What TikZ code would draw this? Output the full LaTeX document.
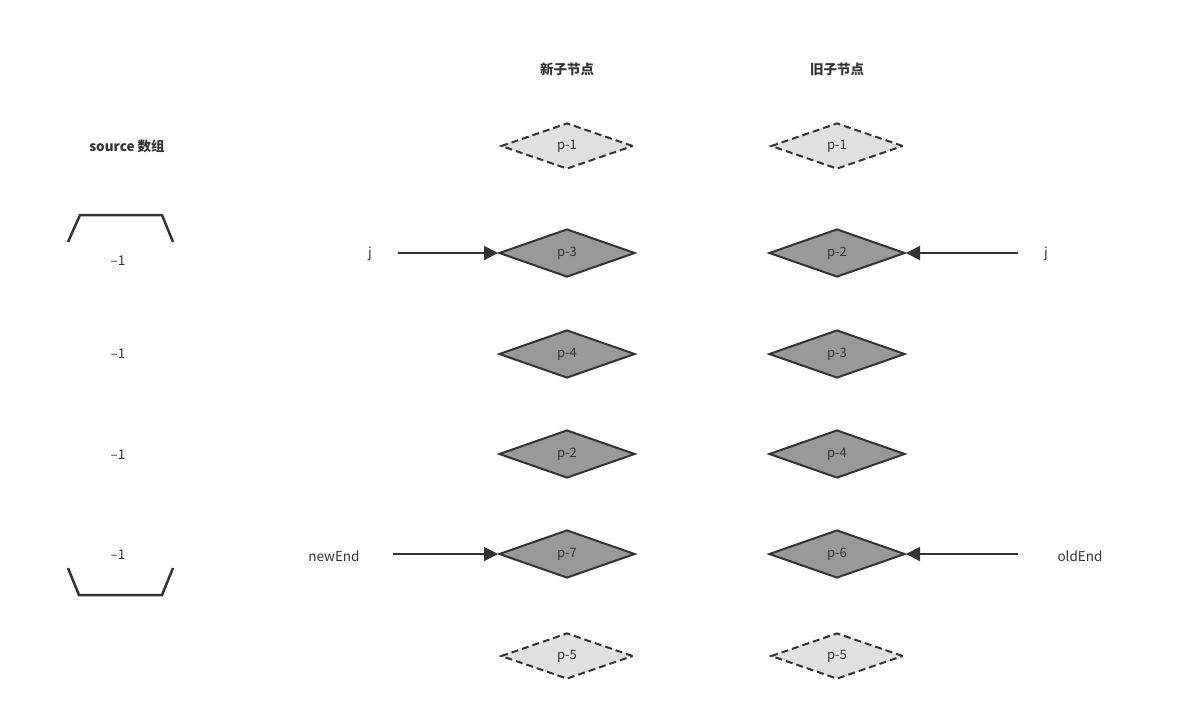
\documentclass[tikz,border=0pt]{standalone}
\usepackage{fontspec}
\setmainfont{Noto Sans CJK SC}
\usetikzlibrary{shapes.geometric,arrows.meta}
\definecolor{ink}{HTML}{333333}
\tikzset{
 dia/.style={diamond,draw=ink,line width=2pt,fill=black!40,minimum width=136pt,minimum height=48pt,inner sep=0pt,text=ink,font=\fontsize{13}{13}\selectfont},
 ddia/.style={dia,fill=black!12,dashed,dash pattern=on 7pt off 4pt,minimum width=132pt,minimum height=46pt},
 lbl/.style={text=ink,font=\fontsize{13.5}{14}\selectfont},
 hd/.style={text=ink,font=\bfseries\fontsize{13.5}{14}\selectfont},
 arr/.style={draw=ink,line width=2pt,-{Triangle[length=14pt,width=14pt]}},
 brk/.style={draw=ink,line width=2.5pt}
}
\begin{document}
\begin{tikzpicture}[x=1pt,y=-1pt]
\useasboundingbox (0,0) rectangle (1179,716);
\node[hd] (h1) at (567,69) {新子节点};
\node[hd] (h2) at (837,69) {旧子节点};
\node[hd] (src) at (127,146) {source 数组};
\node[ddia] (n1) at (567,146) {p-1};
\node[dia] (n3) at (567,253) {p-3};
\node[dia] (n4) at (567,354) {p-4};
\node[dia] (n2) at (567,454) {p-2};
\node[dia] (n7) at (567,554) {p-7};
\node[ddia] (n5) at (567,656) {p-5};
\node[ddia] (o1) at (837,146) {p-1};
\node[dia] (o2) at (837,253) {p-2};
\node[dia] (o3) at (837,354) {p-3};
\node[dia] (o4) at (837,454) {p-4};
\node[dia] (o6) at (837,554) {p-6};
\node[ddia] (o5) at (837,656) {p-5};
\node[lbl] (s1) at (118,261) {–1};
\node[lbl] (s2) at (118,354) {–1};
\node[lbl] (s3) at (118,455) {–1};
\node[lbl] (s4) at (118,555) {–1};
\draw[brk] (68,242) -- (80,215) -- (162,215) -- (173,242);
\draw[brk] (68,568) -- (79,595) -- (162,595) -- (173,568);
\node[lbl] (j1) at (370,254) {j};
\node[lbl] (j2) at (1046,254) {j};
\node[lbl] (ne) at (334,556) {newEnd};
\node[lbl] (oe) at (1080,556) {oldEnd};
\coordinate (a1) at (398,253);
\coordinate (a2) at (1018,253);
\coordinate (a3) at (393,554);
\coordinate (a4) at (1018,554);
\draw[arr] (a1) -- (n3.west);
\draw[arr] (a2) -- (o2.east);
\draw[arr] (a3) -- (n7.west);
\draw[arr] (a4) -- (o6.east);
\end{tikzpicture}
\end{document}
